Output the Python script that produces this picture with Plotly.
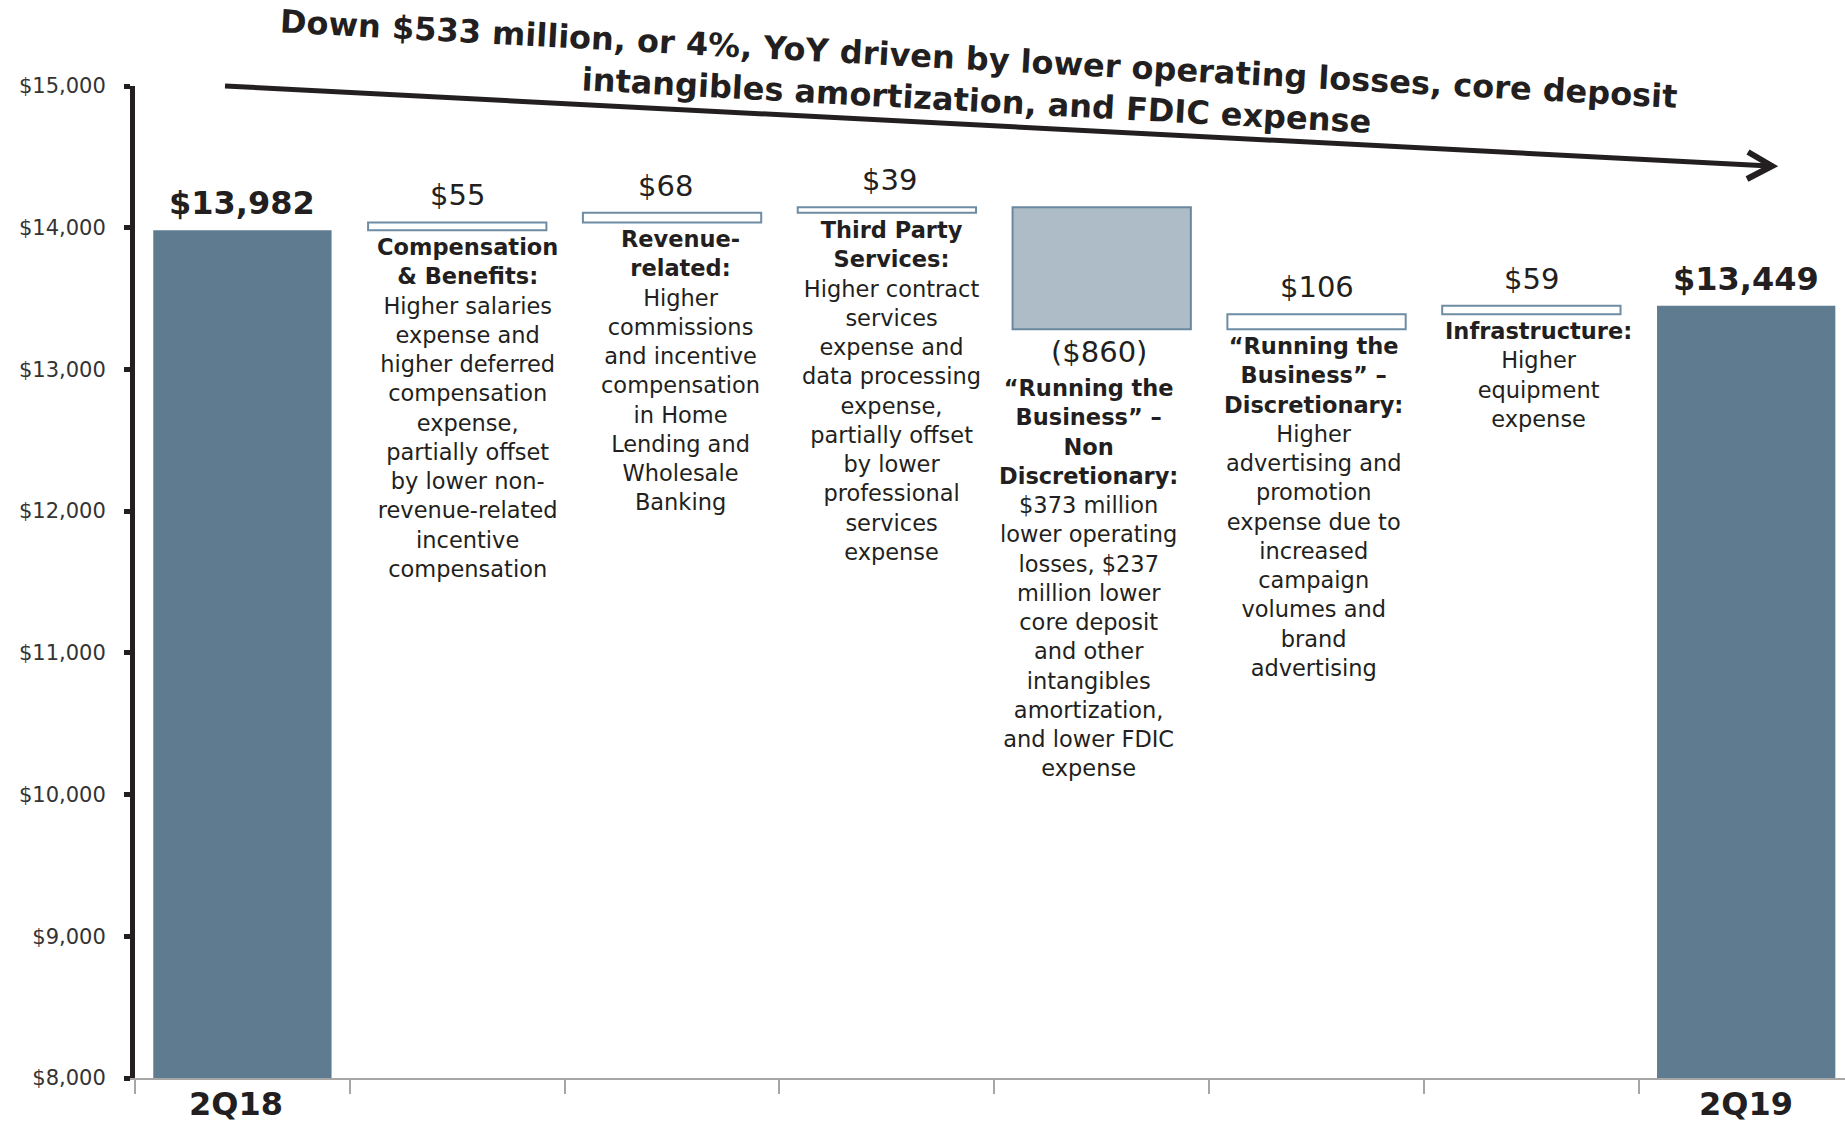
import plotly.graph_objects as go

# ---------------- data ----------------
categories = ["2Q18", "Compensation & Benefits", "Revenue-related", "Third Party Services",
              "Running the Business - Non Discretionary", "Running the Business - Discretionary",
              "Infrastructure", "2Q19"]
values = [13982, 55, 68, 39, -860, 106, 59, 13449]
measures = ["absolute", "relative", "relative", "relative", "relative", "relative", "relative", "total"]
value_labels = ["$13,982", "$55", "$68", "$39", "($860)", "$106", "$59", "$13,449"]
axis_labels = ["2Q18", "", "", "", "", "", "", "2Q19"]
descriptions = [
    "",
    "<b>Compensation<br>& Benefits:</b><br>Higher salaries<br>expense and<br>higher deferred<br>compensation<br>expense,<br>partially offset<br>by lower non-<br>revenue-related<br>incentive<br>compensation",
    "<b>Revenue-<br>related:</b><br>Higher<br>commissions<br>and incentive<br>compensation<br>in Home<br>Lending and<br>Wholesale<br>Banking",
    "<b>Third Party<br>Services:</b><br>Higher contract<br>services<br>expense and<br>data processing<br>expense,<br>partially offset<br>by lower<br>professional<br>services<br>expense",
    "<b>\u201cRunning the<br>Business\u201d \u2013<br>Non<br>Discretionary:</b><br>$373 million<br>lower operating<br>losses, $237<br>million lower<br>core deposit<br>and other<br>intangibles<br>amortization,<br>and lower FDIC<br>expense",
    "<b>\u201cRunning the<br>Business\u201d \u2013<br>Discretionary:</b><br>Higher<br>advertising and<br>promotion<br>expense due to<br>increased<br>campaign<br>volumes and<br>brand<br>advertising",
    "<b>Infrastructure:</b><br>Higher<br>equipment<br>expense",
    "",
]
title_text = ("Down $533 million, or 4%, YoY driven by lower operating losses, core deposit<br>"
              "intangibles amortization, and FDIC expense")
y_ticks = [8000, 9000, 10000, 11000, 12000, 13000, 14000, 15000]
y_tick_labels = ["$8,000", "$9,000", "$10,000", "$11,000", "$12,000", "$13,000", "$14,000", "$15,000"]

# ---------------- styles / layout offsets ----------------
TOTAL = "#5E7B8F"
POS_LINE = "#6E8CA3"
NEG_FILL = "#ADBCC6"
NEG_LINE = "#6A89A0"
TEXT = "#231F20"
FONT = "DejaVu Sans"
desc_xshift = [0, 10, 8, 5, -13, -3, 7, 0]
val_xshift = [0, 0, -7, 3, -3, 0, 0, 0]

W, H = 1845, 1122
ML, MR, MT, MB = 135, 0, 86, 44
PW, PH = W - ML - MR, H - MT - MB


def px(x):
    return (x - ML) / PW


def py(y):
    return (H - MB - y) / PH


fig = go.Figure()
fig.add_trace(go.Waterfall(
    x=categories, y=values, measure=measures,
    width=0.83,
    connector=dict(visible=False),
    increasing=dict(marker=dict(color="white", line=dict(color=POS_LINE, width=2))),
    decreasing=dict(marker=dict(color=NEG_FILL, line=dict(color=NEG_LINE, width=2))),
    totals=dict(marker=dict(color=TOTAL, line=dict(color=TOTAL, width=0))),
    hoverinfo="skip",
    showlegend=False,
))

# running totals derived from the data
starts, ends = [], []
run = 0
for v, m in zip(values, measures):
    if m == "absolute":
        starts.append(0)
        run = v
        ends.append(run)
    elif m == "total":
        starts.append(0)
        ends.append(run)
    else:
        starts.append(run)
        run += v
        ends.append(run)

annotations = []
for i, cat in enumerate(categories):
    top = max(starts[i], ends[i])
    bot = min(starts[i], ends[i]) if measures[i] == "relative" else top
    m = measures[i]
    if m in ("absolute", "total"):
        annotations.append(dict(x=cat, y=top, xref="x", yref="y", text="<b>%s</b>" % value_labels[i],
                                showarrow=False, yanchor="bottom", yshift=6, xshift=val_xshift[i],
                                font=dict(family=FONT, size=32, color=TEXT)))
        annotations.append(dict(x=cat, y=0, xref="x", yref="paper", text="<b>%s</b>" % axis_labels[i],
                                showarrow=False, yanchor="top", yshift=-5, xshift=(-6 if i == 0 else 0),
                                font=dict(family=FONT, size=32, color=TEXT)))
    elif values[i] >= 0:
        annotations.append(dict(x=cat, y=top, xref="x", yref="y", text=value_labels[i],
                                showarrow=False, yanchor="bottom", yshift=8, xshift=val_xshift[i],
                                font=dict(family=FONT, size=29, color=TEXT)))
        annotations.append(dict(x=cat, y=bot, xref="x", yref="y", text=descriptions[i],
                                showarrow=False, yanchor="top", yshift=-2, xshift=desc_xshift[i],
                                align="center", font=dict(family=FONT, size=22.5, color=TEXT)))
    else:
        annotations.append(dict(x=cat, y=bot, xref="x", yref="y", text=value_labels[i],
                                showarrow=False, yanchor="top", yshift=-4, xshift=val_xshift[i],
                                font=dict(family=FONT, size=29, color=TEXT)))
        annotations.append(dict(x=cat, y=bot, xref="x", yref="y", text=descriptions[i],
                                showarrow=False, yanchor="top", yshift=-44, xshift=desc_xshift[i],
                                align="center", font=dict(family=FONT, size=22.5, color=TEXT)))

# headline
annotations.append(dict(x=px(977), y=py(80), xref="paper", yref="paper", text="<b>%s</b>" % title_text,
                        showarrow=False, xanchor="center", yanchor="middle", textangle=3.1,
                        align="center", font=dict(family=FONT, size=32, color=TEXT)))

shapes = [
    dict(type="line", xref="paper", yref="paper", x0=px(225), y0=py(86), x1=px(1770), y1=py(166),
         line=dict(color=TEXT, width=5)),
    dict(type="path", xref="paper", yref="paper",
         path="M %f,%f L %f,%f L %f,%f" % (px(1748), py(152), px(1772), py(166), px(1747), py(179)),
         line=dict(color=TEXT, width=6)),
]

fig.update_layout(
    width=W, height=H,
    margin=dict(l=ML, r=MR, t=MT, b=MB),
    paper_bgcolor="white", plot_bgcolor="white",
    annotations=annotations, shapes=shapes,
    font=dict(family=FONT, color=TEXT),
    xaxis=dict(type="category", categoryorder="array", categoryarray=categories,
               range=[-0.5, 7.46], showgrid=False, zeroline=False,
               showline=True, linecolor="#A6A6A6", linewidth=2,
               ticks="outside", tickson="boundaries", ticklen=14, tickwidth=2, tickcolor="#A6A6A6",
               showticklabels=False, fixedrange=True),
    yaxis=dict(range=[8000, 15000], tickmode="array", tickvals=y_ticks, ticktext=y_tick_labels,
               showgrid=False, zeroline=False, showline=True, linecolor=TEXT, linewidth=5,
               ticks="outside", ticklen=6, tickwidth=5, tickcolor=TEXT,
               tickfont=dict(family=FONT, size=21, color="#333333"), ticklabelstandoff=14,
               fixedrange=True),
)

fig.write_html("out.html", config={"displayModeBar": False},
               post_script="document.body.style.margin='0';")
